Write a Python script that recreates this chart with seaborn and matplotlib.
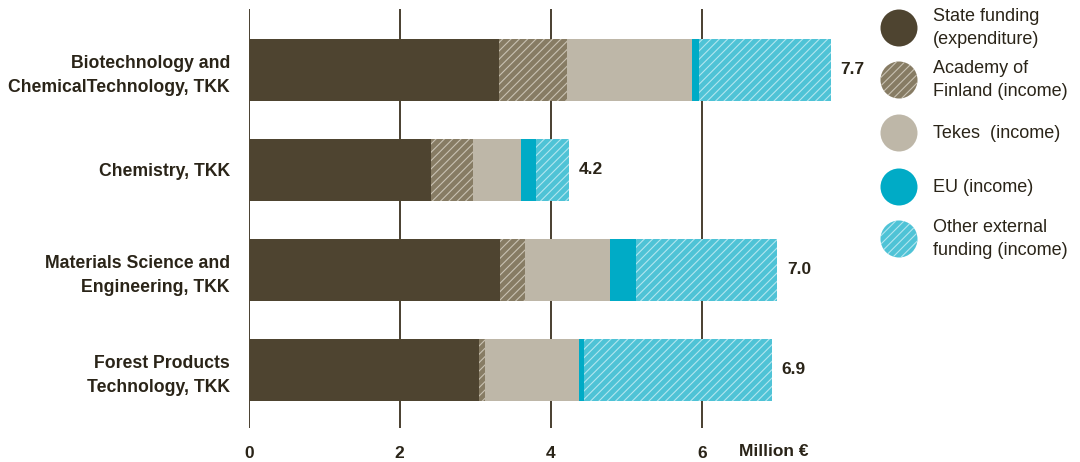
import matplotlib
matplotlib.use("Agg")
import matplotlib.pyplot as plt
from matplotlib.patches import Circle
import numpy as np
import pandas as pd
import seaborn as sns

# Funding by source, million euros
departments = [
    "Biotechnology and\nChemicalTechnology, TKK",
    "Chemistry, TKK",
    "Materials Science and\nEngineering, TKK",
    "Forest Products\nTechnology, TKK",
]
state_funding = [3.31, 2.41, 3.33, 3.05]
academy_of_finland = [0.91, 0.56, 0.33, 0.08]
tekes = [1.65, 0.64, 1.13, 1.24]
eu = [0.10, 0.19, 0.34, 0.07]
other_external = [1.74, 0.44, 1.87, 2.49]

source_names = [
    "State funding\n(expenditure)",
    "Academy of\nFinland (income)",
    "Tekes  (income)",
    "EU (income)",
    "Other external\nfunding (income)",
]
x_ticks = [0, 2, 4, 6]
unit_label = "Million €"

TEXT = "#2a2418"
GRID = "#3a3020"
fills = ["#4e4430", "#877c64", "#beb7a8", "#00abc6", "#4fc3d6"]
hatch_colors = [None, "#c9c2b3", None, None, "#b3e6ef"]
hatches = [None, "////", None, None, "////"]

sns.set_style("white")
plt.rcParams["font.family"] = ["Liberation Sans", "DejaVu Sans"]
plt.rcParams["hatch.linewidth"] = 0.8

series = [state_funding, academy_of_finland, tekes, eu, other_external]
df = pd.DataFrame({"department": departments})
cum = np.cumsum(np.array(series), axis=0)
for k in range(len(series)):
    df[f"cum{k}"] = cum[k]
totals = cum[-1]

fig = plt.figure(figsize=(10.8, 4.62), dpi=100)
ax = fig.add_axes([248.7 / 1080, (462 - 428) / 462, 620 / 1080, 419 / 462])

# Stacked bars: draw cumulative totals from the outermost segment inwards
for k in reversed(range(len(series))):
    n_before = len(ax.patches)
    sns.barplot(data=df, x=f"cum{k}", y="department", orient="h",
                color=fills[k], saturation=1, width=0.62, errorbar=None,
                ax=ax, zorder=2)
    for p in ax.patches[n_before:]:
        p.set_facecolor(fills[k])
        p.set_linewidth(0)
        if hatches[k]:
            p.set_hatch(hatches[k])
            p.set_edgecolor(hatch_colors[k])
        else:
            p.set_edgecolor(fills[k])

for xv in x_ticks:
    ax.axvline(xv, color=GRID, lw=1.3, zorder=0)

for i, t in enumerate(totals):
    ax.text(t + 0.13, i, f"{t:.1f}", va="center", ha="left",
            fontsize=12.5, fontweight="bold", color=TEXT)

ax.set_xlim(0, 620 / 75.5)
ax.set_ylim(3.58, -0.61)
ax.set_xticks(x_ticks)
ax.set_xticklabels([str(v) for v in x_ticks], fontsize=12.5, fontweight="bold", color=TEXT)
ax.set_yticks(range(len(departments)))
ax.set_yticklabels(departments, fontsize=12.7, fontweight="bold", color=TEXT)
for lbl in ax.get_yticklabels():
    lbl.set_linespacing(1.55)
ax.tick_params(axis="x", length=0, pad=13)
ax.tick_params(axis="y", length=0, pad=13.5)
ax.set_xlabel("")
ax.set_ylabel("")
for s in ax.spines.values():
    s.set_visible(False)

fig.text(739 / 1080, (462 - 452) / 462, unit_label, ha="left", va="center",
         fontsize=12.5, fontweight="bold", color=TEXT)

# Legend with round swatches, laid out in pixel units
lax = fig.add_axes([870 / 1080, (462 - 270) / 462, 210 / 1080, 270 / 462])
lax.set_xlim(0, 210)
lax.set_ylim(270, 0)
lax.axis("off")
centers_y = [28, 80, 133, 187, 239]
for k, cy in enumerate(centers_y):
    c = Circle((29, cy), 18.5, facecolor=fills[k], linewidth=0,
               edgecolor=hatch_colors[k] if hatches[k] else fills[k],
               hatch=hatches[k])
    lax.add_patch(c)
    lax.text(63, cy, source_names[k], ha="left", va="center",
             fontsize=13, color=TEXT, linespacing=1.45)

fig.savefig("out.png", dpi=100)
